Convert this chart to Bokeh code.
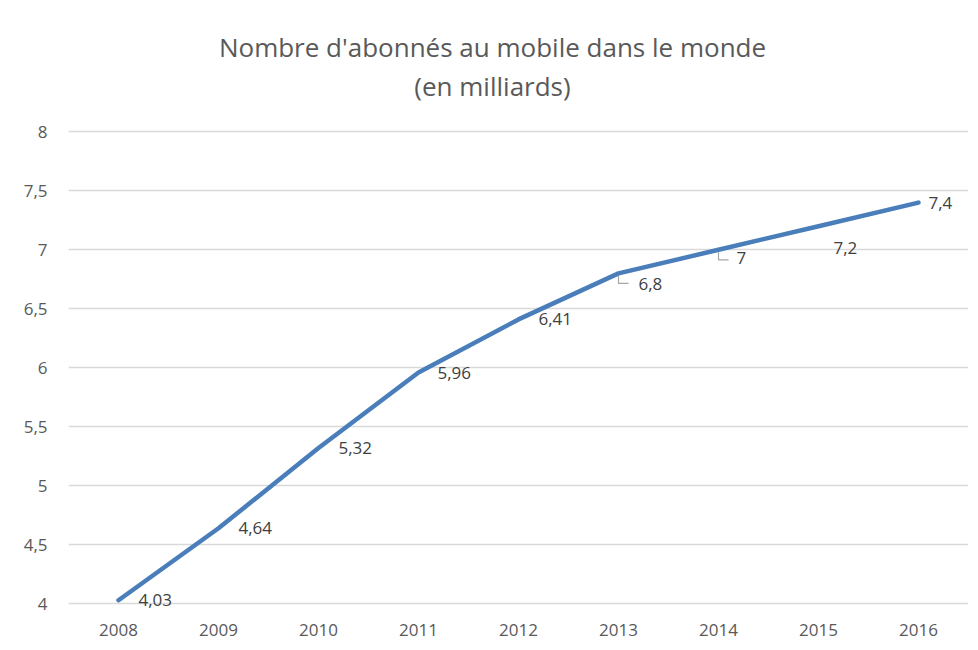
from bokeh.plotting import figure
from bokeh.models import Range1d, FixedTicker, CustomJSTickFormatter, ColumnDataSource, LabelSet, Label
from bokeh.core.properties import value
from bokeh.embed import file_html
from bokeh.resources import INLINE

years = [2008, 2009, 2010, 2011, 2012, 2013, 2014, 2015, 2016]
subscribers = [4.03, 4.64, 5.32, 5.96, 6.41, 6.8, 7.0, 7.2, 7.4]
value_labels = ["4,03", "4,64", "5,32", "5,96", "6,41", "6,8", "7", "7,2", "7,4"]
y_ticks = [4, 4.5, 5, 5.5, 6, 6.5, 7, 7.5, 8]
title_main = "Nombre d'abonnés au mobile dans le monde"
title_sub = "(en milliards)"

# label placement offsets (pixels, positive dy = upward)
label_dx = [20, 20, 20, 19, 20, 20, 18, 15, 10]
label_dy = [0, 0, 0, 0, 0, -11, -8, -22, 0]
leader_years = [2013, 2014]
leader_values = [6.8, 7.0]

FONT = "Open Sans"
TXT = "#595959"

# layout: frame spans 10..608 px; 118 px per unit so that 8 sits at ~131 px, 4 at ~603 px
Y0, Y1 = 3.96, 9.028
X0, X1 = 2007.5, 2016.5
p = figure(width=978, height=650, output_backend="svg", toolbar_location=None,
           x_range=Range1d(X0, X1), y_range=Range1d(Y0, Y1),
           min_border_left=68, min_border_right=10, min_border_bottom=42,
           min_border_top=10, title=None)
p.outline_line_color = None
p.background_fill_color = "white"
p.border_fill_color = "white"

# title centred on the whole chart area (~492 px), not on the plot frame
xc = X0 + (492 - 68) / 100
p.add_layout(Label(x=xc, y=8.722, text=title_main, text_font=FONT, text_font_size="26px",
                   text_color=TXT, text_align="center", text_baseline="middle"))
p.add_layout(Label(x=xc, y=8.384, text=title_sub, text_font=FONT, text_font_size="26px",
                   text_color=TXT, text_align="center", text_baseline="middle"))

p.xaxis.ticker = FixedTicker(ticks=years)
p.yaxis.ticker = FixedTicker(ticks=y_ticks)
p.yaxis.formatter = CustomJSTickFormatter(code="return tick.toString().replace('.', ',');")
for ax in (p.xaxis, p.yaxis):
    ax.axis_line_color = None
    ax.major_tick_line_color = None
    ax.minor_tick_line_color = None
    ax.major_label_text_font = FONT
    ax.major_label_text_font_size = "17px"
    ax.major_label_text_color = TXT
p.yaxis.major_label_standoff = 15
p.xaxis.major_label_standoff = 9
p.xgrid.grid_line_color = None
p.ygrid.grid_line_color = "#d9d9d9"
p.ygrid.grid_line_width = 1.5

src = ColumnDataSource(dict(x=years, y=subscribers, lab=value_labels, dx=label_dx, dy=label_dy))
p.line("x", "y", source=src, line_color="#4a7ebb", line_width=4.5, line_cap="round")

# leader lines for shifted labels
lxs = [[yr, yr, yr + 0.1] for yr in leader_years]
lys = [[v - 0.02, v - 0.085, v - 0.085] for v in leader_values]
p.multi_line(xs=lxs, ys=lys, line_color="#a6a6a6", line_width=1.2)

labels = LabelSet(x="x", y="y", text="lab", source=src, x_offset="dx", y_offset="dy",
                  text_font=value(FONT), text_font_size=value("17px"), text_color=value("#404040"),
                  text_align="left", text_baseline="middle")
p.add_layout(labels)

open("out.html", "w").write(file_html(p, INLINE))
